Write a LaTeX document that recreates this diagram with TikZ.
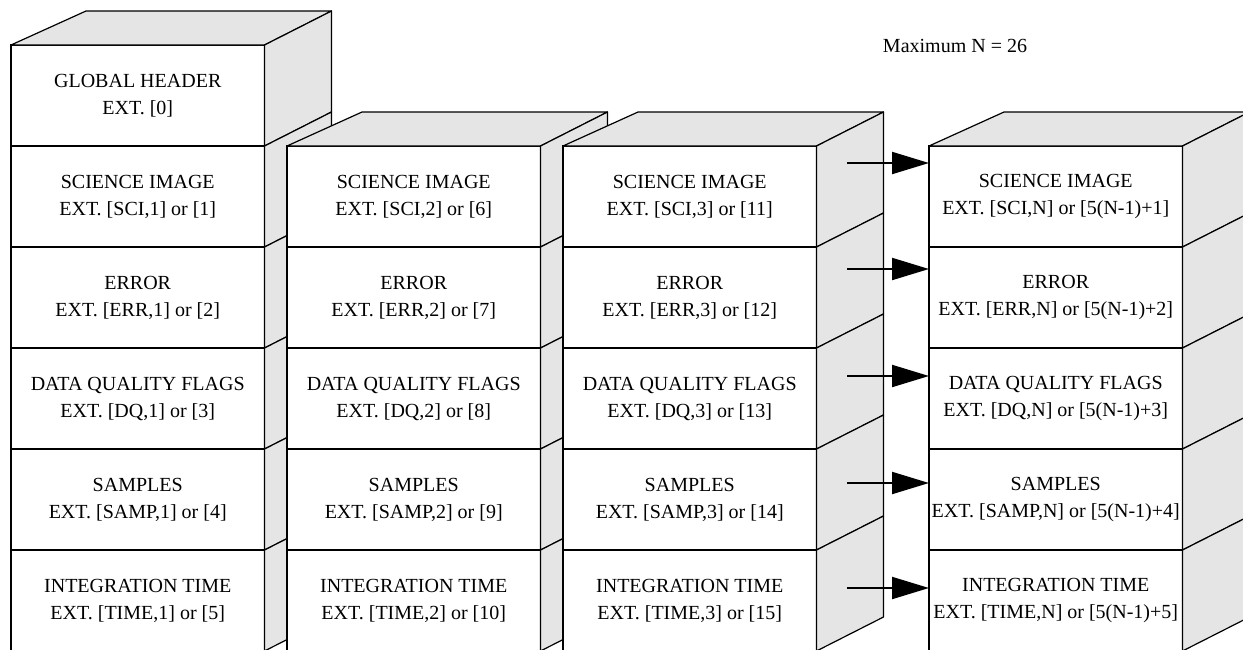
\documentclass[tikz,border=0pt]{standalone}
\usepackage{fontspec}
\setmainfont{Liberation Serif}
\usetikzlibrary{arrows.meta,positioning,calc}
\definecolor{sidegray}{RGB}{229,229,229}

\begin{document}
\begin{tikzpicture}[x=0.5pt, y=-0.5pt, node distance=0pt and 11.25pt, >=Triangle,
		front/.style={draw=black, fill=white, rectangle, line width=0.6pt, minimum width=126.75pt, minimum height=50.5pt, inner sep=0pt, outer sep=0pt, align=center, font=\fontsize{10}{13.5}\selectfont},
		face/.style={draw=black, fill=sidegray, line width=0.6pt, line join=round},
		note/.style={draw=none, inner sep=0pt, font=\fontsize{10}{12}\selectfont},
		chainArrow/.style={line width=1pt, -{Triangle[length=18.5pt, width=11pt]}, color=black}
		]
		\useasboundingbox (0,0) rectangle (1243,649);
		\clip (0,0) rectangle (1243,649);
		
		% first file: header and extensions 1-5
		\node[front](h0) [anchor=north west] at (11,45) {GLOBAL HEADER\\EXT. [0]};
		\node[front](a1) [below=of h0] {SCIENCE IMAGE\\EXT. [SCI,1] or [1]};
		\node[front](a2) [below=of a1] {ERROR\\EXT. [ERR,1] or [2]};
		\node[front](a3) [below=of a2] {DATA QUALITY FLAGS\\EXT. [DQ,1] or [3]};
		\node[front](a4) [below=of a3] {SAMPLES\\EXT. [SAMP,1] or [4]};
		\node[front](a5) [below=of a4] {INTEGRATION TIME\\EXT. [TIME,1] or [5]};
		\draw[face] (h0.north west) -- ++(37.5pt,17pt) -- ($(h0.north east)+(33.5pt,17pt)$) -- (h0.north east) -- cycle;
		\foreach \n in {h0,a1,a2,a3,a4,a5}
		\draw[face] (\n.north east) -- ++(33.5pt,17pt) -- ($(\n.south east)+(33.5pt,17pt)$) -- (\n.south east) -- cycle;
		
		\node[front](b1) [right=of a1] {SCIENCE IMAGE\\EXT. [SCI,2] or [6]};
		\node[front](b2) [below=of b1] {ERROR\\EXT. [ERR,2] or [7]};
		\node[front](b3) [below=of b2] {DATA QUALITY FLAGS\\EXT. [DQ,2] or [8]};
		\node[front](b4) [below=of b3] {SAMPLES\\EXT. [SAMP,2] or [9]};
		\node[front](b5) [below=of b4] {INTEGRATION TIME\\EXT. [TIME,2] or [10]};
		\draw[face] (b1.north west) -- ++(37.5pt,17pt) -- ($(b1.north east)+(33.5pt,17pt)$) -- (b1.north east) -- cycle;
		\foreach \n in {b1,b2,b3,b4,b5}
		\draw[face] (\n.north east) -- ++(33.5pt,17pt) -- ($(\n.south east)+(33.5pt,17pt)$) -- (\n.south east) -- cycle;
		
		\node[front](c1) [right=of b1] {SCIENCE IMAGE\\EXT. [SCI,3] or [11]};
		\node[front](c2) [below=of c1] {ERROR\\EXT. [ERR,3] or [12]};
		\node[front](c3) [below=of c2] {DATA QUALITY FLAGS\\EXT. [DQ,3] or [13]};
		\node[front](c4) [below=of c3] {SAMPLES\\EXT. [SAMP,3] or [14]};
		\node[front](c5) [below=of c4] {INTEGRATION TIME\\EXT. [TIME,3] or [15]};
		\draw[face] (c1.north west) -- ++(37.5pt,17pt) -- ($(c1.north east)+(33.5pt,17pt)$) -- (c1.north east) -- cycle;
		\foreach \n in {c1,c2,c3,c4,c5}
		\draw[face] (\n.north east) -- ++(33.5pt,17pt) -- ($(\n.south east)+(33.5pt,17pt)$) -- (\n.south east) -- cycle;
		
		% last file
		\node[front](n1) [right=of c1, xshift=45pt] {SCIENCE IMAGE\\EXT. [SCI,N] or [5(N-1)+1]};
		\node[front](n2) [below=of n1] {ERROR\\EXT. [ERR,N] or [5(N-1)+2]};
		\node[front](n3) [below=of n2] {DATA QUALITY FLAGS\\EXT. [DQ,N] or [5(N-1)+3]};
		\node[front](n4) [below=of n3] {SAMPLES\\EXT. [SAMP,N] or [5(N-1)+4]};
		\node[front](n5) [below=of n4] {INTEGRATION TIME\\EXT. [TIME,N] or [5(N-1)+5]};
		\draw[face] (n1.north west) -- ++(37.5pt,17pt) -- ($(n1.north east)+(33.5pt,17pt)$) -- (n1.north east) -- cycle;
		\foreach \n in {n1,n2,n3,n4,n5}
		\draw[face] (\n.north east) -- ++(33.5pt,17pt) -- ($(\n.south east)+(33.5pt,17pt)$) -- (\n.south east) -- cycle;
		
		\node[note](maxn) [anchor=base] at (955,52) {Maximum N = 26};
		
		\coordinate (t1) at (847,163);
		\coordinate (t2) at (847,269);
		\coordinate (t3) at (847,376);
		\coordinate (t4) at (847,483);
		\coordinate (t5) at (847,588);
		\foreach \t/\n in {t1/n1,t2/n2,t3/n3,t4/n4,t5/n5}
		\draw[chainArrow] (\t) -- (\t -| \n.west);
\end{tikzpicture}
\end{document}
